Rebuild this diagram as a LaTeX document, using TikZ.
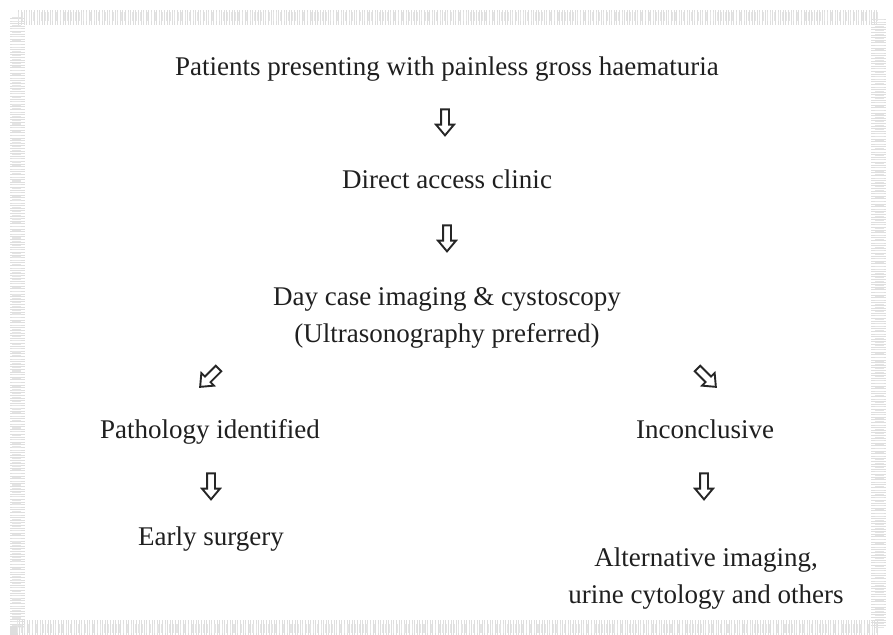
\documentclass[tikz,border=0pt]{standalone}
\usepackage{fontspec}
\setmainfont{Liberation Serif}
\usetikzlibrary{shapes.arrows}
\tikzset{
  lbl/.style={font=\fontsize{27}{37}\selectfont, text=black!88, inner sep=0pt, align=center},
  blockarrow/.style={single arrow, draw=black!85, line width=1.9pt, minimum height=26pt,
    minimum width=17pt, inner sep=3pt, single arrow head extend=5pt, single arrow tip angle=80},
  downarrow/.style={blockarrow, rotate=-90},
  dlarrow/.style={blockarrow, rotate=-135},
  drarrow/.style={blockarrow, rotate=-45},
  frame/.style={draw=black!13, line width=15pt, dash pattern=on 0.7pt off 1.9pt},
  frametwo/.style={draw=black!10, line width=9pt, dash pattern=on 1.1pt off 2.7pt}
}
\begin{document}
\begin{tikzpicture}[x=1pt,y=-1pt]
\useasboundingbox (0,0) rectangle (893,634);
\draw[frame] (17,18) rectangle (878,627);
\draw[frametwo] (16,17) rectangle (879,628);
\node[lbl, anchor=base] (title) at (447,75) {Patients presenting with painless gross haematuria};
\node[downarrow] (a1) at (445,120) {};
\node[lbl, anchor=base] (direct) at (447,188) {Direct access clinic};
\node[downarrow] (a2) at (447,236) {};
\node[lbl] (daycase) at (447,318) {Day case imaging \& cystoscopy\\(Ultrasonography preferred)};
\node[dlarrow] (a3) at (211,376) {};
\node[drarrow] (a4) at (705,376) {};
\node[lbl, anchor=base] (path) at (210,438) {Pathology identified};
\node[lbl, anchor=base] (incon) at (705,438) {Inconclusive};
\node[downarrow] (a5) at (211,484) {};
\node[downarrow] (a6) at (704,484) {};
\node[lbl, anchor=base] (early) at (211,545) {Early surgery};
\node[lbl] (alt) at (706,579) {Alternative imaging,\\urine cytology and others};
\end{tikzpicture}
\end{document}
